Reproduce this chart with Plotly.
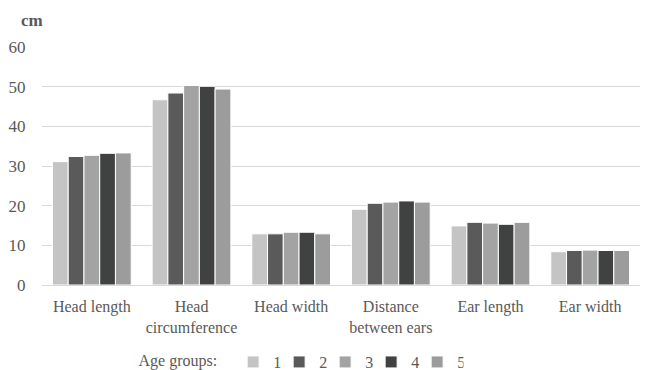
import plotly.graph_objects as go

categories = ["Head length", "Head<br>circumference", "Head width", "Distance<br>between ears", "Ear length", "Ear width"]
groups = ["1", "2", "3", "4", "5"]
g1 = [31.1, 46.7, 12.9, 19.1, 14.9, 8.4]
g2 = [32.4, 48.4, 12.9, 20.6, 15.8, 8.7]
g3 = [32.7, 50.3, 13.3, 20.9, 15.6, 8.8]
g4 = [33.2, 50.1, 13.3, 21.2, 15.3, 8.7]
g5 = [33.3, 49.4, 12.9, 20.9, 15.8, 8.7]
series = [g1, g2, g3, g4, g5]
colors = ["#c4c4c4", "#5a5a5a", "#a3a3a3", "#404241", "#9c9c9c"]
y_ticks = [0, 10, 20, 30, 40, 50, 60]

FONT = "Liberation Serif, Times New Roman, serif"

fig = go.Figure()
for name, vals, col in zip(groups, series, colors):
    fig.add_trace(go.Bar(
        x=categories, y=vals, name=name,
        marker=dict(color=col, line=dict(color="white", width=1)),
    ))

# page body has an 8px margin, so the figure is 8px smaller and offset
fig.update_layout(
    width=641, height=362,
    margin=dict(l=34, r=9, t=39, b=85, autoexpand=False),
    paper_bgcolor="white", plot_bgcolor="white",
    barmode="group", bargap=0.21, bargroupgap=0,
    font=dict(family=FONT, color="#595959", size=16),
    xaxis=dict(
        showgrid=False, showline=True, linecolor="#d9d9d9", linewidth=1,
        ticks="outside", ticklen=7, tickcolor="rgba(0,0,0,0)",
        tickfont=dict(size=16, color="#595959"), automargin=False,
    ),
    yaxis=dict(
        range=[0, 60], tickvals=y_ticks, showgrid=True, gridcolor="#d9d9d9",
        zeroline=False, showline=False,
        ticks="outside", ticklen=12, tickcolor="rgba(0,0,0,0)",
        tickfont=dict(size=17, color="#595959"), automargin=False,
    ),
    legend=dict(
        orientation="h", xref="paper", x=0.158, xanchor="left",
        yref="container", y=0.022, yanchor="middle",
        title=dict(text="Age groups:  ", side="left", font=dict(size=16, color="#595959")),
        font=dict(size=16, color="#595959"),
        entrywidth=1, entrywidthmode="pixels",
        tracegroupgap=0,
    ),
    annotations=[dict(
        text="<b>cm</b>", xref="paper", yref="paper", x=-0.039, y=1.113,
        xanchor="left", yanchor="middle", showarrow=False,
        font=dict(size=17, color="#595959", family=FONT),
    )],
)

fig.write_html("out.html")
